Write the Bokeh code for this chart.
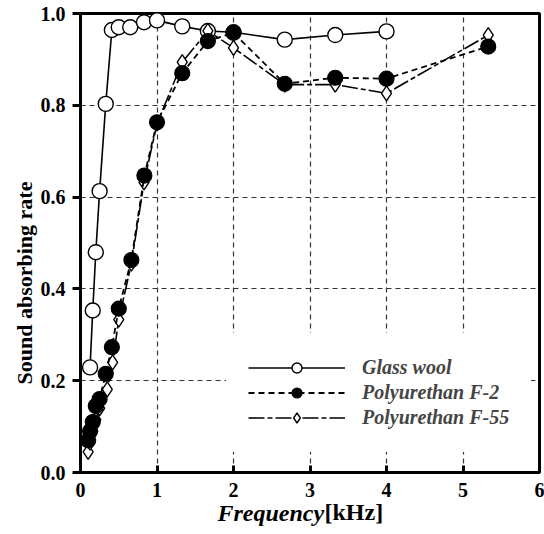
import math
from bokeh.plotting import figure
from bokeh.models import Legend, LegendItem, Title, FixedTicker
from bokeh.embed import file_html
from bokeh.resources import INLINE

# ---- data ----
glass_freq = [0.125, 0.16, 0.2, 0.25, 0.33, 0.41, 0.5, 0.65, 0.83, 1.0, 1.33, 1.665, 2.0, 2.67, 3.33, 4.0]
glass_rate = [0.229, 0.353, 0.48, 0.613, 0.803, 0.964, 0.97, 0.97, 0.981, 0.985, 0.972, 0.962, 0.959, 0.943, 0.953, 0.961]

f2_freq = [0.1, 0.125, 0.16, 0.2, 0.25, 0.33, 0.41, 0.5, 0.665, 0.835, 1.0, 1.33, 1.665, 2.0, 2.67, 3.33, 4.0, 5.33]
f2_rate = [0.07, 0.09, 0.11, 0.145, 0.16, 0.215, 0.273, 0.357, 0.463, 0.647, 0.763, 0.870, 0.940, 0.958, 0.847, 0.860, 0.858, 0.928]

f55_freq = [0.1, 0.125, 0.16, 0.2, 0.25, 0.35, 0.42, 0.5, 0.665, 0.83, 1.0, 1.33, 1.665, 2.0, 2.67, 3.33, 4.0, 5.33]
f55_rate = [0.045, 0.065, 0.09, 0.115, 0.14, 0.181, 0.24, 0.333, 0.455, 0.632, 0.76, 0.894, 0.962, 0.925, 0.845, 0.845, 0.826, 0.953]

series_names = ["Glass wool", "Polyurethan F-2", "Polyurethan F-55"]
x_ticks = [0, 1, 2, 3, 4, 5, 6]
y_ticks = [0.0, 0.2, 0.4, 0.6, 0.8, 1.0]
y_tick_labels = ["0.0", "0.2", "0.4", "0.6", "0.8", "1.0"]
x_title_a = "Frequency"
x_title_b = "[kHz]"
y_title = "Sound absorbing rate"

SERIF = "Liberation Serif"

p = figure(frame_width=459, frame_height=459,
           x_range=(0, 6), y_range=(0, 1.0),
           output_backend="svg", toolbar_location=None,
           min_border_left=80, min_border_right=5,
           min_border_top=13, min_border_bottom=62,
           background_fill_color="white", border_fill_color="white")

p.outline_line_color = "black"
p.outline_line_width = 3

p.xaxis.ticker = FixedTicker(ticks=x_ticks)
p.yaxis.ticker = FixedTicker(ticks=y_ticks)
p.yaxis.major_label_overrides = {t: l for t, l in zip(y_ticks, y_tick_labels)}

for ax in (p.xaxis[0], p.yaxis[0]):
    ax.axis_line_color = "black"
    ax.axis_line_width = 3
    ax.major_tick_line_color = "black"
    ax.major_tick_line_width = 3
    ax.minor_tick_line_color = None
    ax.major_label_text_font = SERIF
    ax.major_label_text_font_style = "bold"
    ax.major_label_text_font_size = "20px"
    ax.major_label_text_color = "black"

p.xaxis.major_tick_in = 7
p.xaxis.major_tick_out = 0
p.xaxis.major_label_standoff = 10
p.yaxis.major_tick_in = 0
p.yaxis.major_tick_out = 8
p.yaxis.major_label_standoff = 7

for g in (p.xgrid[0], p.ygrid[0]):
    g.grid_line_color = "#333333"
    g.grid_line_width = 1.2
    g.grid_line_dash = "5 4"

# ---- series ----
gl_line = p.line(glass_freq, glass_rate, line_color="black", line_width=1.6)
gl_pts = p.scatter(glass_freq, glass_rate, marker="circle", size=15,
                   fill_color="white", line_color="black", line_width=1.4)

f55_line = p.line(f55_freq, f55_rate, line_color="black", line_width=1.6, line_dash="16 3 5 3")
f55_pts = p.scatter(f55_freq, f55_rate, marker="diamond", size=15,
                    fill_color="white", line_color="black", line_width=1.4)

f2_line = p.line(f2_freq, f2_rate, line_color="black", line_width=1.8, line_dash="6 4")
f2_pts = p.scatter(f2_freq, f2_rate, marker="circle", size=15,
                   fill_color="black", line_color="black", line_width=1.2)

legend = Legend(items=[
    LegendItem(label=series_names[0], renderers=[gl_line, gl_pts]),
    LegendItem(label=series_names[1], renderers=[f2_line, f2_pts]),
    LegendItem(label=series_names[2], renderers=[f55_line, f55_pts]),
], location=(146, 20))
legend.glyph_width = 97
legend.glyph_height = 25
legend.label_height = 25
legend.spacing = 0
legend.padding = 22
legend.margin = 0
legend.label_standoff = 17
legend.label_text_font = SERIF
legend.label_text_font_style = "bold italic"
legend.label_text_font_size = "20px"
legend.border_line_alpha = 0
legend.background_fill_color = "white"
legend.background_fill_alpha = 1.0
p.add_layout(legend)

# ---- axis titles (as side-panel titles) ----
ttl_a = Title(text=x_title_a, align="left", offset=137, standoff=0,
              vertical_align="top", text_font=SERIF, text_font_style="bold italic",
              text_font_size="24px", text_color="black")
ttl_b = Title(text=x_title_b, align="left", offset=244, standoff=-58,
              vertical_align="top", text_font=SERIF, text_font_style="bold",
              text_font_size="24px", text_color="black")
p.add_layout(ttl_a, "below")
p.add_layout(ttl_b, "below")

ttl_y = Title(text=y_title, align="left", offset=88, standoff=0,
              vertical_align="middle", text_font=SERIF, text_font_style="bold",
              text_font_size="22px", text_color="black")
p.add_layout(ttl_y, "left")

open("out.html", "w").write(file_html(p, INLINE))
